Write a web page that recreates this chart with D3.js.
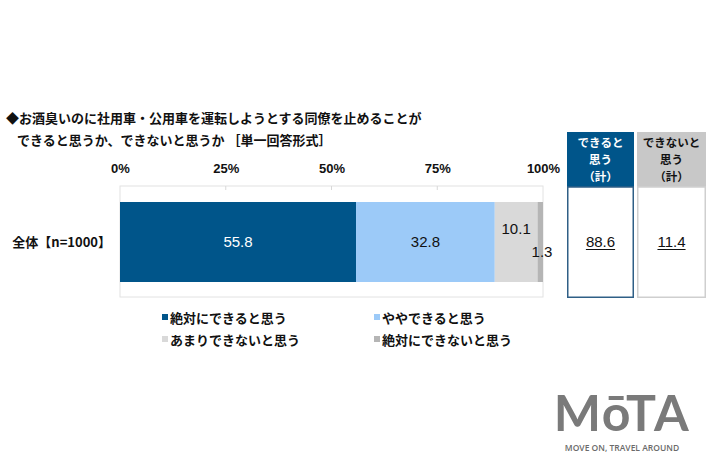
<!DOCTYPE html>
<html><head><meta charset="utf-8">
<script src="https://cdn.jsdelivr.net/npm/d3@7"></script>
<style>body{margin:0;background:#fff}svg{display:block}</style>
</head><body>
<svg id="c" width="710" height="473"></svg>
<script>
const titleLines = ["◆お酒臭いのに社用車・公用車を運転しようとする同僚を止めることが", "できると思うか、できないと思うか ［単一回答形式］"];
const categories = ["全体【n=1000】"];
const seriesNames = ["絶対にできると思う", "ややできると思う", "あまりできないと思う", "絶対にできないと思う"];
const seriesValues = [[55.8], [32.8], [10.1], [1.3]];
const seriesColors = ["#00558a", "#9ccaf8", "#d9d9d9", "#b5b5b5"];
const tickValues = [0, 25, 50, 75, 100];
const totalHeaders = [["できると", "思う", "（計）"], ["できないと", "思う", "（計）"]];
const totalValues = [[88.6], [11.4]];

const svg = d3.select("#c");
const JP = "'Noto Sans CJK JP','Noto Sans',sans-serif";
const NUM = "'Liberation Sans',Arial,sans-serif";

// title
svg.append("text").attr("x", 6).attr("y", 123).attr("font-family", JP).attr("font-weight", 700)
  .attr("font-size", 13).attr("fill", "#111").text(titleLines[0]);
svg.append("text").attr("x", 17).attr("y", 145).attr("font-family", JP).attr("font-weight", 700)
  .attr("font-size", 13).attr("fill", "#111").text(titleLines[1]);

const x = d3.scaleLinear().domain([0, 100]).range([120, 543]);
const y = d3.scaleBand().domain(categories).range([186, 297]).paddingInner(0).paddingOuter(0.15);

// plot frame
svg.append("rect").attr("x", x(0)).attr("y", 186).attr("width", x(100) - x(0)).attr("height", 111)
  .attr("fill", "none").attr("stroke", "#e2e2e2").attr("stroke-width", 1);
// top ticks
svg.append("g").selectAll("line").data(tickValues.slice(1, -1)).join("line")
  .attr("x1", d => x(d)).attr("x2", d => x(d)).attr("y1", 186).attr("y2", 190)
  .attr("stroke", "#d8d8d8");

// axis labels
const axis = d3.axisTop(x).tickValues(tickValues).tickFormat(d => d + "%").tickSize(0);
const ag = svg.append("g").attr("transform", "translate(0,176)").call(axis);
ag.select(".domain").remove();
ag.selectAll("text").attr("font-family", NUM).attr("font-weight", 700).attr("font-size", 13).attr("fill", "#111");

// stack
const rows = categories.map((c, i) => {
  const o = { cat: c };
  seriesNames.forEach((s, j) => o[s] = seriesValues[j][i]);
  return o;
});
const stack = d3.stack().keys(seriesNames)(rows);
const barY0 = 202, barH = 80;

const layers = svg.append("g").selectAll("g").data(stack).join("g")
  .attr("fill", (d, i) => seriesColors[i]);
layers.selectAll("rect").data(d => d).join("rect")
  .attr("x", d => x(d[0])).attr("width", d => x(d[1]) - x(d[0]))
  .attr("y", barY0).attr("height", barH);

// value labels
const cy = barY0 + barH / 2;
stack.forEach((layer, i) => {
  layer.forEach(d => {
    const v = d[1] - d[0];
    let tx = (x(d[0]) + x(d[1])) / 2, ty = cy + 5;
    if (i === 2) { ty = cy - 8; }
    if (i === 3) { tx = x(d[1]) - 1; ty = cy + 15; }
    svg.append("text").attr("x", tx).attr("y", ty).attr("text-anchor", "middle")
      .attr("font-family", NUM).attr("font-size", 15)
      .attr("fill", i === 0 ? "#fff" : "#111").text(v.toFixed(1));
  });
});

// category label
svg.append("text").attr("x", 111).attr("y", cy + 5).attr("text-anchor", "end")
  .attr("font-family", JP).attr("font-weight", 700).attr("font-size", 13).attr("fill", "#111")
  .text(categories[0]);

// total boxes
const boxes = [
  { x0: 567, x1: 634, head: "#00558a", border: "#2f5f86", txt: "#fff" },
  { x0: 637, x1: 706, head: "#c8c8c8", border: "#cfcfcf", txt: "#111" }
];
boxes.forEach((b, i) => {
  const w = b.x1 - b.x0;
  svg.append("rect").attr("x", b.x0).attr("y", 132).attr("width", w).attr("height", 55).attr("fill", b.head);
  svg.append("rect").attr("x", b.x0 + 0.75).attr("y", 187).attr("width", w - 1.5).attr("height", 110.25)
    .attr("fill", "#fff").attr("stroke", b.border).attr("stroke-width", 1.5);
  totalHeaders[i].forEach((t, k) => {
    svg.append("text").attr("x", (b.x0 + b.x1) / 2).attr("y", 147 + k * 17).attr("text-anchor", "middle")
      .attr("font-family", JP).attr("font-weight", 700).attr("font-size", 11.5).attr("fill", b.txt).text(t);
  });
  const tv = totalValues[i][0].toFixed(1);
  const t = svg.append("text").attr("x", (b.x0 + b.x1) / 2).attr("y", cy + 5).attr("text-anchor", "middle")
    .attr("font-family", NUM).attr("font-size", 15).attr("fill", "#111").text(tv);
  const bb = t.node().getBBox();
  svg.append("line").attr("x1", bb.x).attr("x2", bb.x + bb.width).attr("y1", cy + 7.5).attr("y2", cy + 7.5)
    .attr("stroke", "#111").attr("stroke-width", 1);
});

// legend
const legPos = [[162, 318], [374, 318], [162, 340], [374, 340]];
seriesNames.forEach((s, i) => {
  const [lx, ly] = legPos[i];
  svg.append("rect").attr("x", lx).attr("y", ly - 4).attr("width", 6).attr("height", 6).attr("fill", seriesColors[i]);
  svg.append("text").attr("x", lx + 8).attr("y", ly + 4.5).attr("font-family", JP).attr("font-weight", 700)
    .attr("font-size", 13).attr("fill", "#111").text(s);
});

// watermark
svg.append("text").attr("x", 622).attr("y", 431).attr("text-anchor", "middle").attr("font-family", "'Lato','Open Sans',sans-serif")
  .attr("font-weight", 700).attr("font-size", 50).attr("fill", "#7a7a7a").attr("letter-spacing", 1.5).text("MōTA");
svg.append("text").attr("x", 622).attr("y", 451).attr("text-anchor", "middle").attr("font-family", "'Open Sans',sans-serif")
  .attr("font-weight", 600).attr("font-size", 8.5).attr("fill", "#6a6a6a").text("MOVE ON, TRAVEL AROUND");
</script>
</body></html>
